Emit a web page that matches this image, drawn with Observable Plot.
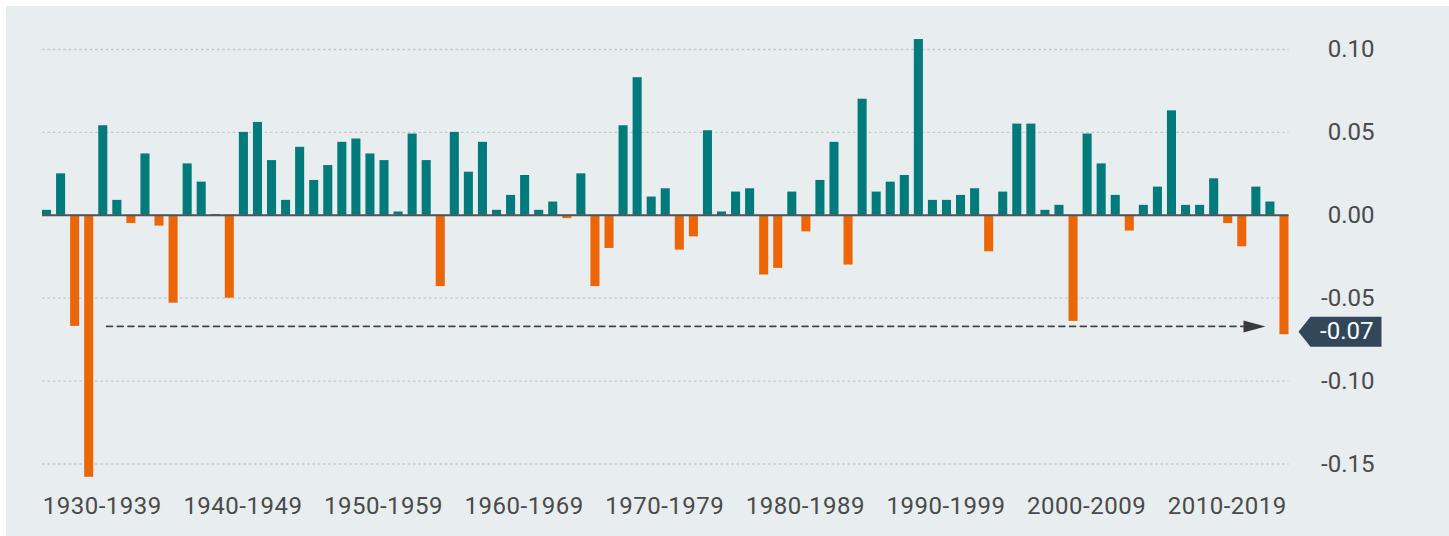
<!DOCTYPE html>
<html>
<head>
<meta charset="utf-8">
<script src="https://cdn.jsdelivr.net/npm/d3@7"></script>
<script src="https://cdn.jsdelivr.net/npm/@observablehq/plot@0.6"></script>
<style>
  html, body { margin: 0; padding: 0; background: #ffffff; }
  #panel { position: absolute; left: 6px; top: 6px; width: 1443px; height: 530px; background: #e8edf0; }
  #panel g[aria-label="x-axis tick label"] text { letter-spacing: 0.5px; }
</style>
</head>
<body>
<div id="panel"></div>
<script>
// ---- data ----
const years = d3.range(1930, 2019);
const values = [
  0.003, 0.025, -0.067, -0.158, 0.054, 0.009, -0.005, 0.037, -0.0065, -0.053,
  0.031, 0.020, 0.0005, -0.050, 0.050, 0.056, 0.033, 0.009, 0.041, 0.021,
  0.030, 0.044, 0.046, 0.037, 0.033, 0.002, 0.049, 0.033, -0.043, 0.050,
  0.026, 0.044, 0.003, 0.012, 0.024, 0.003, 0.008, -0.002, 0.025, -0.043,
  -0.020, 0.054, 0.083, 0.011, 0.016, -0.021, -0.013, 0.051, 0.002, 0.014,
  0.016, -0.036, -0.032, 0.014, -0.010, 0.021, 0.044, -0.030, 0.070, 0.014,
  0.020, 0.024, 0.106, 0.009, 0.009, 0.012, 0.016, -0.022, 0.014, 0.055,
  0.055, 0.003, 0.006, -0.064, 0.049, 0.031, 0.012, -0.0095, 0.006, 0.017,
  0.063, 0.006, 0.006, 0.022, -0.005, -0.019, 0.017, 0.008, -0.072
];
const decadeTicks = [1934, 1944, 1954, 1964, 1974, 1984, 1994, 2004, 2014];
const decadeLabels = ["1930-1939", "1940-1949", "1950-1959", "1960-1969", "1970-1979",
                      "1980-1989", "1990-1999", "2000-2009", "2010-2019"];
const yTicks = [-0.15, -0.10, -0.05, 0, 0.05, 0.10];
const gridTicks = [-0.15, -0.10, -0.05, 0.05, 0.10];
const arrowFromYear = 1932;
const arrowToYear = 2018;

const data = years.map((year, i) => ({year, value: values[i]}));
const fromPoint = data.find(d => d.year === arrowFromYear);
const lastPoint = data.find(d => d.year === arrowToYear);

const teal = "#007a7a", orange = "#ec6608", navy = "#33475b", ink = "#4a4a4a";

const tagSymbol = {draw(ctx) {
  ctx.moveTo(0, 0); ctx.lineTo(12, -15); ctx.lineTo(83, -15);
  ctx.lineTo(83, 15); ctx.lineTo(12, 15); ctx.closePath();
}};
const headSymbol = {draw(ctx) {
  ctx.moveTo(11, 0); ctx.lineTo(-11, -6); ctx.lineTo(-11, 6); ctx.closePath();
}};

const chart = Plot.plot({
  width: 1443,
  height: 530,
  marginLeft: 36,
  marginRight: 160.5,
  marginTop: 43,
  marginBottom: 72.5,
  style: {fontFamily: "Roboto", fontSize: "24px", color: ink, background: "transparent"},
  x: {type: "band", domain: years, paddingInner: 0.356, paddingOuter: 0, round: false, axis: null, label: null},
  y: {domain: [-0.15, 0.10], nice: false, axis: null, label: null},
  marks: [
    Plot.ruleY(gridTicks, {stroke: "#c6cacd", strokeWidth: 1.3, strokeDasharray: "2.7,2.6"}),
    Plot.barY(data, {x: "year", y: "value", fill: d => d.value < 0 ? orange : teal}),
    Plot.ruleY([0], {stroke: "#4f5456", strokeWidth: 2}),
    Plot.arrow([fromPoint], {
      x1: "year", y1: "value", x2: () => arrowToYear, y2: "value",
      headLength: 0, insetStart: 31.4, insetEnd: 41,
      stroke: "#444", strokeWidth: 1.6, strokeDasharray: "6,4.7"
    }),
    Plot.dot([fromPoint], {x: () => arrowToYear, y: "value", symbol: headSymbol, r: 5, fill: "#3a3a3a", stroke: null, dx: -30}),
    Plot.dot([lastPoint], {x: "year", y: "value", symbol: tagSymbol, r: 5, fill: navy, stroke: null, dx: 14, dy: -3}),
    Plot.text([lastPoint], {x: "year", y: "value", text: d => d.value.toFixed(2), fill: "#ffffff",
      textAnchor: "end", dx: 89, dy: -3, fontSize: 24}),
    Plot.axisY({anchor: "right", ticks: yTicks, tickSize: 0, tickPadding: 85.5, textAnchor: "end",
      tickFormat: d => d.toFixed(2), fontSize: 24, fill: ink, label: null}),
    Plot.axisX({anchor: "bottom", ticks: decadeTicks, tickSize: 0, tickPadding: 32.5,
      tickFormat: d => decadeLabels[decadeTicks.indexOf(d)], fontSize: 24, fill: ink, dx: -1,
      label: null})
  ]
});
document.getElementById("panel").appendChild(chart);
</script>
</body>
</html>
